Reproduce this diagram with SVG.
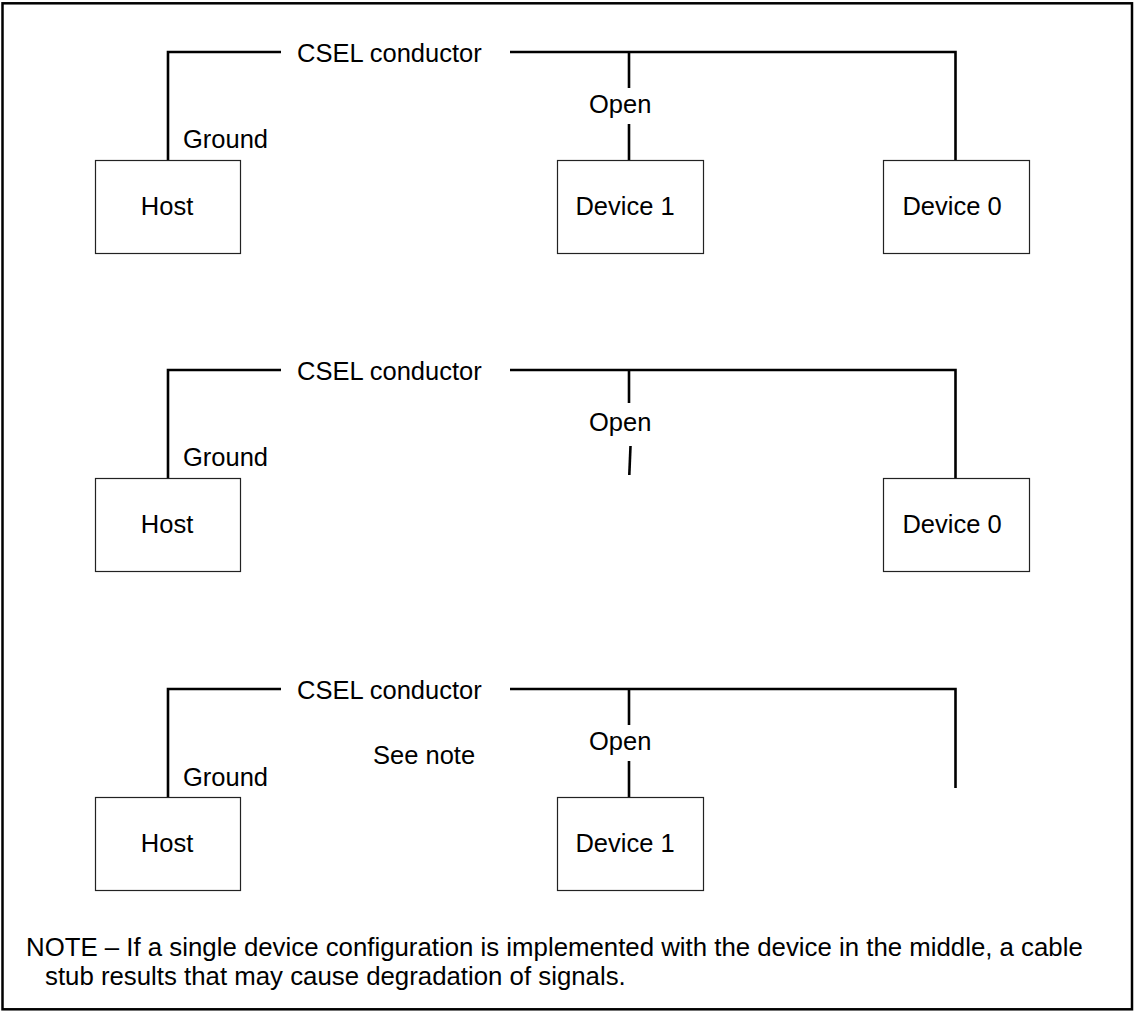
<svg xmlns="http://www.w3.org/2000/svg" width="1134" height="1011" viewBox="0 0 1134 1011">
<style>
  .frame{fill:none;stroke:#000;stroke-width:2.5}
  .box{fill:#fff;stroke:#222;stroke-width:1.2}
  .wire{fill:none;stroke:#000;stroke-width:2.6;stroke-linecap:butt;stroke-linejoin:miter}
  text{font-family:"Liberation Sans",Arial,sans-serif;font-size:25.5px;fill:#000}
  .c{text-anchor:middle}
  .note{font-size:25.8px}
</style>
<rect class="frame" x="2.5" y="3.3" width="1129.5" height="1006"/>

<g id="connectors">
  <!-- panel 1 -->
  <polyline class="wire" points="168,160 168,52 281,52"/>
  <polyline class="wire" points="510,52 955.5,52 955.5,160"/>
  <line class="wire" x1="629" y1="52" x2="629" y2="88"/>
  <line class="wire" x1="629" y1="124" x2="629" y2="160"/>
  <!-- panel 2 -->
  <polyline class="wire" points="168,478 168,370 281,370"/>
  <polyline class="wire" points="510,370 955.5,370 955.5,478"/>
  <line class="wire" x1="629" y1="370" x2="629" y2="403"/>
  <line class="wire" x1="630.5" y1="446" x2="629.3" y2="475"/>
  <!-- panel 3 -->
  <polyline class="wire" points="168,797 168,689 281,689"/>
  <polyline class="wire" points="510,689 955.5,689 955.5,788"/>
  <line class="wire" x1="629" y1="689" x2="629" y2="725"/>
  <line class="wire" x1="629" y1="761" x2="629" y2="797"/>
</g>

<g id="labels">
  <text x="297" y="62">CSEL conductor</text>
  <text x="183" y="148">Ground</text>
  <text x="589" y="113">Open</text>
  <text x="297" y="380">CSEL conductor</text>
  <text x="183" y="466">Ground</text>
  <text x="589" y="431">Open</text>
  <text x="297" y="699">CSEL conductor</text>
  <text x="183" y="786">Ground</text>
  <text x="589" y="750">Open</text>
  <text x="373" y="764">See note</text>
</g>

<g id="host1"><rect class="box" x="95.5" y="160.5" width="145" height="93"/><text class="c" x="167" y="215">Host</text></g>
<g id="device1a"><rect class="box" x="557.5" y="160.5" width="146" height="93"/><text class="c" x="625" y="215">Device 1</text></g>
<g id="device0a"><rect class="box" x="883.5" y="160.5" width="146" height="93"/><text class="c" x="952" y="215">Device 0</text></g>

<g id="host2"><rect class="box" x="95.5" y="478.5" width="145" height="93"/><text class="c" x="167" y="533">Host</text></g>
<g id="device0b"><rect class="box" x="883.5" y="478.5" width="146" height="93"/><text class="c" x="952" y="533">Device 0</text></g>

<g id="host3"><rect class="box" x="95.5" y="797.5" width="145" height="93"/><text class="c" x="167" y="852">Host</text></g>
<g id="device1c"><rect class="box" x="557.5" y="797.5" width="146" height="93"/><text class="c" x="625" y="852">Device 1</text></g>

<g id="note">
  <text class="note" x="26" y="956">NOTE – If a single device configuration is implemented with the device in the middle, a cable</text>
  <text class="note" x="45" y="985">stub results that may cause degradation of signals.</text>
</g>
</svg>
